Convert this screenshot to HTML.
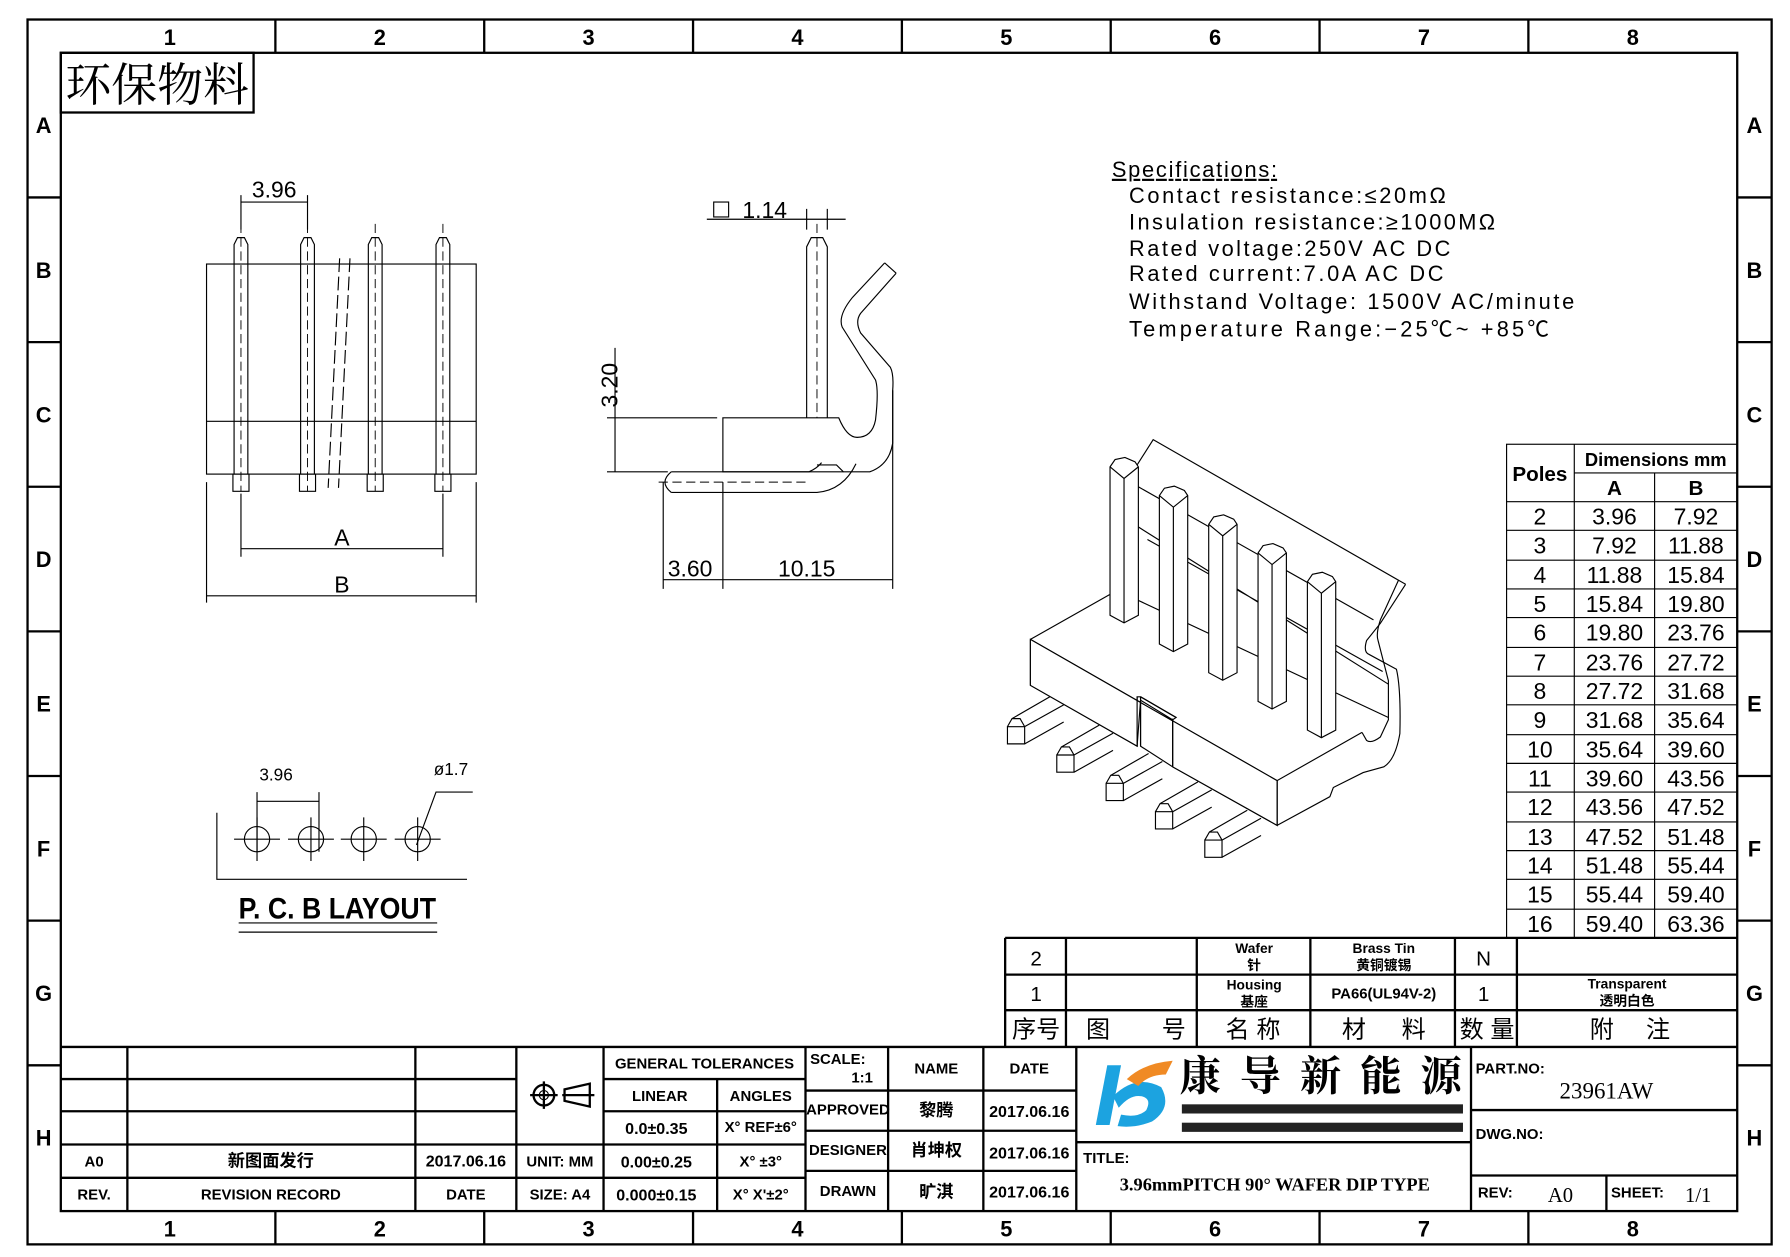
<!DOCTYPE html>
<html><head><meta charset="utf-8"><style>
html,body{margin:0;padding:0;background:#fff}
svg{display:block}
text{font-family:"Liberation Sans","Noto Sans CJK SC",sans-serif;fill:#000}
.s{font-family:"Liberation Serif","Noto Serif CJK SC","Noto Sans CJK SC",serif}
.t{stroke:#000;fill:none;stroke-width:1}
.b{stroke:#000;fill:none;stroke-width:2}
.d{stroke:#000;fill:none;stroke-width:0.8;stroke-dasharray:8 4}
</style></head><body>
<svg width="1790" height="1257" viewBox="0 0 1560 1095" preserveAspectRatio="none" xmlns="http://www.w3.org/2000/svg">
<rect x="24" y="17" width="1520" height="1067" class="b"/>
<rect x="53" y="46" width="1461" height="1009" class="b"/>
<g class="b">
<path d="M240 17V46M422 17V46M604 17V46M786 17V46M968 17V46M1150 17V46M1332 17V46"/>
<path d="M240 1055V1084M422 1055V1084M604 1055V1084M786 1055V1084M968 1055V1084M1150 1055V1084M1332 1055V1084"/>
<path d="M24 172H53M24 298H53M24 424H53M24 550H53M24 676H53M24 802H53M24 928H53"/>
<path d="M1514 172H1544M1514 298H1544M1514 424H1544M1514 550H1544M1514 676H1544M1514 802H1544M1514 928H1544"/>
</g>
<g font-size="19" text-anchor="middle" font-weight="bold">
<text x="148" y="39">1</text><text x="331" y="39">2</text><text x="513" y="39">3</text><text x="695" y="39">4</text><text x="877" y="39">5</text><text x="1059" y="39">6</text><text x="1241" y="39">7</text><text x="1423" y="39">8</text>
<text x="148" y="1077">1</text><text x="331" y="1077">2</text><text x="513" y="1077">3</text><text x="695" y="1077">4</text><text x="877" y="1077">5</text><text x="1059" y="1077">6</text><text x="1241" y="1077">7</text><text x="1423" y="1077">8</text>
<text x="38" y="116">A</text><text x="38" y="242">B</text><text x="38" y="368">C</text><text x="38" y="494">D</text><text x="38" y="620">E</text><text x="38" y="746">F</text><text x="38" y="872">G</text><text x="38" y="998">H</text>
<text x="1529" y="116">A</text><text x="1529" y="242">B</text><text x="1529" y="368">C</text><text x="1529" y="494">D</text><text x="1529" y="620">E</text><text x="1529" y="746">F</text><text x="1529" y="872">G</text><text x="1529" y="998">H</text>
</g>
<rect x="53" y="46" width="168" height="52" class="b"/>
<text x="57" y="88" font-size="40" class="s">环保物料</text>

<!-- front view -->
<g class="t">
<rect x="180" y="230" width="235" height="183"/>
<line x1="180" y1="367" x2="415" y2="367"/>
<path d="M204 413V213l3-6h6l3 6V413M262 413V213l3-6h6l3 6V413M321 413V213l3-6h6l3 6V413M380 413V213l3-6h6l3 6V413"/>
<path d="M203 413h14v15h-14zM261 413h14v15h-14zM320 413h14v15h-14zM379 413h14v15h-14z"/>
<path d="M210 170V200M268 170V200M180 420V525M415 420V525M210 430V485M386 430V485"/>
<path d="M210 176H268M210 478H386M180 519H415"/>
<path d="M296 225L286 425M305 225L295 425" stroke-dasharray="12 4"/>
</g>
<g class="d"><path d="M210 195V428M268 195V428M327 195V428M386 195V428"/></g>
<g font-size="20" text-anchor="middle"><text x="239" y="172">3.96</text><text x="298" y="475">A</text><text x="298" y="516">B</text></g>

<!-- side view -->
<g class="t">
<path d="M703 364V215l4-8h10l4 8V364"/>
<path d="M771 229L743 259Q730 275 734 285L763 331Q766 340 763 366Q760 381 747 381Q738 381 731 364H630V411H735"/>
<path d="M781 238L750 273Q745 280 750 290L776 320Q779 326 778 340V386Q775 405 758 411H735L729 405H712"/>
<line x1="771" y1="229" x2="781" y2="238"/>
<path d="M585 411H705Q712 408 716 403M585 429H712Q735 427 746 404M585 411Q574 420 585 429"/>
<path d="M529 364H625M529 411H582M536 303V411M578 420V513M630 420V513M778 340V513M616 191H737M703 182V200M721 182V200"/>
<path d="M578 505H778"/>
<rect x="622" y="176" width="13" height="13"/>
</g>
<g class="d"><path d="M712 195V364M574 420H705"/></g>
<g font-size="20"><text x="647" y="190">1.14</text><text x="582" y="502">3.60</text><text x="678" y="502">10.15</text>
<text x="538" y="355" transform="rotate(-90 538 355)">3.20</text></g>

<!-- PCB layout -->
<g class="t">
<path d="M189 708V766H407"/>
<path d="M224 690V742M278 690V742M224 698H278M363 736L380 690H412"/>
<circle cx="224" cy="731" r="11"/><circle cx="271" cy="731" r="11"/><circle cx="317" cy="731" r="11"/><circle cx="364" cy="731" r="11"/>
<path d="M204 731H244M251 731H291M297 731H337M344 731H384M224 712V750M271 712V750M317 712V750M364 712V750"/>
<path d="M208 804H381M208 812H381"/>
</g>
<g font-size="15"><text x="226" y="680">3.96</text><text x="378" y="675">ø1.7</text></g>
<text x="294" y="800" font-size="26" font-weight="bold" text-anchor="middle" textLength="172" lengthAdjust="spacingAndGlyphs">P. C. B LAYOUT</text>

<!-- specs -->
<g font-size="19">
<text x="969" y="154" text-decoration="underline" textLength="144" lengthAdjust="spacing">Specifications:</text>
<text x="984" y="177" textLength="276" lengthAdjust="spacing">Contact  resistance:≤20mΩ</text>
<text x="984" y="200" textLength="319" lengthAdjust="spacing">Insulation  resistance:≥1000MΩ</text>
<text x="984" y="223" textLength="280" lengthAdjust="spacing">Rated  voltage:250V  AC  DC</text>
<text x="984" y="245" textLength="274" lengthAdjust="spacing">Rated  current:7.0A  AC  DC</text>
<text x="984" y="269" textLength="388" lengthAdjust="spacing">Withstand  Voltage: 1500V  AC/minute</text>
<text x="984" y="293" textLength="366" lengthAdjust="spacing">Temperature  Range:−25℃~  +85℃</text>
</g>

<!-- 3D view -->
<g class="t">
<!-- leads -->
<g id="ld">
<path d="M878 633V648H893V633ZM878 633L882 626H889L893 633M882 626L915 607M893 633L927 614M893 648L927 629" fill="#fff"/>
</g>
<use href="#ld" transform="translate(43 24.7)"/>
<use href="#ld" transform="translate(86 49.4)"/>
<use href="#ld" transform="translate(129 74.1)"/>
<use href="#ld" transform="translate(172 98.8)"/>
<!-- back -->
<path d="M991 405L1005 383L1225 509"/>
<path d="M1225 509L1203 543L1191 558Q1188 568 1193 570L1217 583Q1221 600 1220 639Q1216 662 1206 668L1188 673L1162 686L1159 694L1113 719"/>
<path d="M1219 505L1203 540Q1199 552 1201 558L1210 593V627L1203 642Q1195 648 1191 645L1187 638"/>
<path d="M992 424L1197 540M992 459L1210 596M1000 470L1205 585M992 523L1210 625"/>
<!-- body -->
<path d="M898 557L967 518L1187 638L1113 680Z" fill="#fff" stroke="none"/>
<path d="M898 557V597L991 650V607L994 607V650L1022 668V627L1025 625L994 607M1022 668L1113 719V680Z" fill="#fff"/>
<path d="M898 557L1113 680L1187 638M898 557L967 518M1113 680V719"/>
<polygon points="898,557 1113,680 1113,719 1022,668 1022,627 994,610 991,650 898,597" fill="#fff"/>
<path d="M991 607V650M994 607V650M994 607L1025 625M1022 626V668"/>
</g>
<g class="t">
<g id="pn">
<path d="M967.4 406.7L971.8 400.3L980.4 398.5L989.2 402.3L992.1 406.7V536L979.6 542.6L967.4 536Z" fill="#fff"/>
<path d="M967.4 406.7L979.6 416.8L992.1 406.7M979.6 416.8V542.6"/>
</g>
<use href="#pn" transform="translate(43 25)"/>
<use href="#pn" transform="translate(86 50)"/>
<use href="#pn" transform="translate(129 75)"/>
<use href="#pn" transform="translate(172 100)"/>
</g>

<!-- poles table -->
<g class="t" stroke-width="1.5">
<rect x="1313" y="387" width="201" height="430"/>
<path d="M1372 387V817M1442 412V817M1372 412H1514M1313 437H1514"/>
<path d="M1313 462H1514M1313 488H1514M1313 513H1514M1313 538H1514M1313 564H1514M1313 589H1514M1313 614H1514M1313 640H1514M1313 665H1514M1313 690H1514M1313 716H1514M1313 741H1514M1313 766H1514M1313 792H1514"/>
</g>
<g font-size="18" font-weight="bold" text-anchor="middle">
<text x="1342" y="419">Poles</text><text x="1443" y="406" font-size="16">Dimensions mm</text>
<text x="1407" y="431">A</text><text x="1478" y="431">B</text>
</g>
<g font-size="20" text-anchor="middle">
<text x="1342" y="457">2</text><text x="1407" y="457">3.96</text><text x="1478" y="457">7.92</text>
<text x="1342" y="482">3</text><text x="1407" y="482">7.92</text><text x="1478" y="482">11.88</text>
<text x="1342" y="508">4</text><text x="1407" y="508">11.88</text><text x="1478" y="508">15.84</text>
<text x="1342" y="533">5</text><text x="1407" y="533">15.84</text><text x="1478" y="533">19.80</text>
<text x="1342" y="558">6</text><text x="1407" y="558">19.80</text><text x="1478" y="558">23.76</text>
<text x="1342" y="584">7</text><text x="1407" y="584">23.76</text><text x="1478" y="584">27.72</text>
<text x="1342" y="609">8</text><text x="1407" y="609">27.72</text><text x="1478" y="609">31.68</text>
<text x="1342" y="634">9</text><text x="1407" y="634">31.68</text><text x="1478" y="634">35.64</text>
<text x="1342" y="660">10</text><text x="1407" y="660">35.64</text><text x="1478" y="660">39.60</text>
<text x="1342" y="685">11</text><text x="1407" y="685">39.60</text><text x="1478" y="685">43.56</text>
<text x="1342" y="710">12</text><text x="1407" y="710">43.56</text><text x="1478" y="710">47.52</text>
<text x="1342" y="736">13</text><text x="1407" y="736">47.52</text><text x="1478" y="736">51.48</text>
<text x="1342" y="761">14</text><text x="1407" y="761">51.48</text><text x="1478" y="761">55.44</text>
<text x="1342" y="786">15</text><text x="1407" y="786">55.44</text><text x="1478" y="786">59.40</text>
<text x="1342" y="812">16</text><text x="1407" y="812">59.40</text><text x="1478" y="812">63.36</text>
</g>

<!-- BOM -->
<g class="b">
<path d="M876 817H1514M876 849H1514M876 880H1514M876 817V912M929 817V912M1043 817V912M1142 817V912M1268 817V912M1322 817V912"/>
</g>
<g text-anchor="middle" class="s">
<text x="903" y="841" font-size="18">2</text><text x="903" y="872" font-size="18">1</text>
<text x="1293" y="841" font-size="18">N</text><text x="1293" y="872" font-size="18">1</text>
</g>
<g text-anchor="middle" font-size="12" font-weight="bold">
<text x="1093" y="830">Wafer</text><text x="1093" y="845">针</text>
<text x="1093" y="862">Housing</text><text x="1093" y="877">基座</text>
<text x="1206" y="830">Brass Tin</text><text x="1206" y="845">黄铜镀锡</text>
<text x="1206" y="870" font-size="13">PA66(UL94V-2)</text>
<text x="1418" y="861">Transparent</text><text x="1418" y="876">透明白色</text>
</g>
<g font-size="21" class="s" text-anchor="middle">
<text x="903" y="904">序号</text><text x="957" y="904">图</text><text x="1023" y="904">号</text><text x="1092" y="904">名 称</text><text x="1180" y="904">材</text><text x="1232" y="904">料</text><text x="1296" y="904">数 量</text><text x="1396" y="904">附</text><text x="1445" y="904">注</text>
</g>

<!-- title block -->
<g class="b">
<path d="M53 912H1514"/>
<path d="M53 940H450M53 968H450M53 997H702M53 1026H702"/>
<path d="M111 912V1055M362 912V1055M450 912V1055M526 912V1055M702 912V1055"/>
<path d="M526 940H702M526 968H702M625 940V1055"/>
<path d="M702 950H938M702 985H938M702 1020H938M774 912V1055M857 912V1055M938 912V1055"/>
<path d="M938 995H1282M1282 912V1055M1282 967H1514M1282 1024H1514M1400 1024V1055"/>
</g>
<g class="s" font-size="13" text-anchor="middle" font-weight="bold">
<text x="82" y="1016">A0</text><text x="236" y="1016" font-size="15">新图面发行</text><text x="406" y="1016" font-size="14">2017.06.16</text>
<text x="82" y="1045">REV.</text><text x="236" y="1045">REVISION RECORD</text><text x="406" y="1045">DATE</text>
<text x="488" y="1016">UNIT: MM</text><text x="488" y="1045">SIZE: A4</text>
<text x="614" y="931">GENERAL TOLERANCES</text>
<text x="575" y="959">LINEAR</text><text x="663" y="959">ANGLES</text>
<text x="572" y="988" font-size="14">0.0±0.35</text><text x="663" y="986">X° REF±6°</text>
<text x="572" y="1017" font-size="14">0.00±0.25</text><text x="663" y="1016">X°  ±3°</text>
<text x="572" y="1046" font-size="14">0.000±0.15</text><text x="663" y="1045">X° X'±2°</text>
<text x="816" y="935">NAME</text><text x="897" y="935">DATE</text>
<text x="739" y="971">APPROVED</text><text x="739" y="1006">DESIGNER</text><text x="739" y="1042">DRAWN</text>
<text x="816" y="972" font-size="15">黎腾</text><text x="816" y="1007" font-size="15">肖坤权</text><text x="816" y="1043" font-size="15">旷淇</text>
<text x="897" y="973" font-size="14">2017.06.16</text><text x="897" y="1009" font-size="14">2017.06.16</text><text x="897" y="1043" font-size="14">2017.06.16</text>
</g>
<g class="s" font-size="13" font-weight="bold"><text x="706" y="927">SCALE:</text><text x="742" y="943">1:1</text>
<text x="944" y="1013">TITLE:</text><text x="1286" y="935">PART.NO:</text><text x="1286" y="992">DWG.NO:</text>
<text x="1288" y="1043">REV:</text><text x="1404" y="1043">SHEET:</text></g>
<text x="1111" y="1037" class="s" font-size="16" text-anchor="middle" font-weight="bold">3.96mmPITCH 90° WAFER DIP TYPE</text>
<text x="1400" y="957" class="s" font-size="20" text-anchor="middle">23961AW</text>
<text x="1360" y="1047" class="s" font-size="18" text-anchor="middle">A0</text>
<text x="1480" y="1047" class="s" font-size="18" text-anchor="middle">1/1</text>
<g class="t"><circle cx="474" cy="954" r="9" stroke-width="2"/><circle cx="474" cy="954" r="4"/><path d="M462 954H486M474 942V966M490 954H518M492 949L514 944V964L492 959Z" stroke-width="2"/></g>
<!-- logo -->
<path d="M965 928h12l-10 52h-12z" fill="#1ca3e0"/>
<path d="M970 955q20-20 42-8q10 18-8 30q-15 6-30 4l3-10q15 3 22-4q5-10-4-12q-10-2-20 10z" fill="#1ca3e0"/>
<path d="M982 940q15-14 40-16l-6 12q-15 0-24 10z" fill="#f08a24"/>
<text x="1028" y="950" font-size="36" class="s" font-weight="bold" textLength="246" lengthAdjust="spacing">康导新能源</text>
<rect x="1030" y="962" width="245" height="8" fill="#222"/>
<rect x="1030" y="978" width="245" height="8" fill="#222"/>
</svg>
</body></html>
